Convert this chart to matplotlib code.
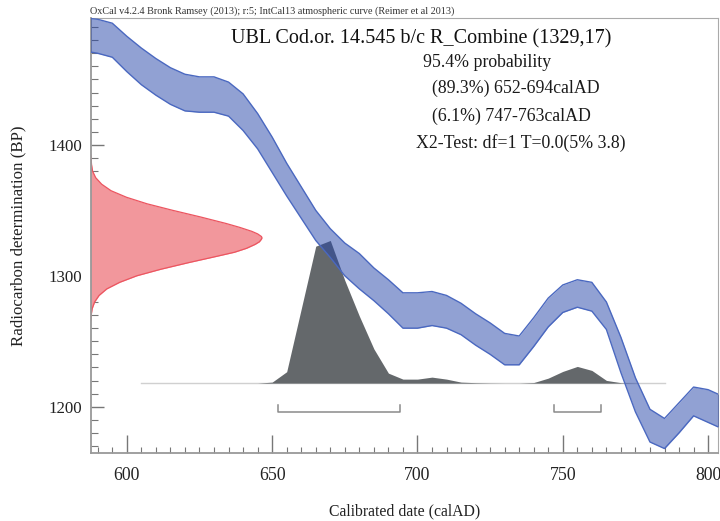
import numpy as np
import matplotlib
matplotlib.use("Agg")
import matplotlib.pyplot as plt
from matplotlib.ticker import MultipleLocator

plt.rcParams['font.family'] = ['Liberation Serif', 'DejaVu Serif']

# IntCal13 band (5 yr grid), upper / lower edge in BP
curve_years = [585, 590, 595, 600, 605, 610, 615, 620, 625, 630, 635, 640, 645,
               650, 655, 660, 665, 670, 675, 680, 685, 690, 695, 700, 705, 710,
               715, 720, 725, 730, 735, 740, 745, 750, 755, 760, 765, 770, 775,
               780, 785, 790, 795, 800, 805]
curve_upper = [1497, 1496, 1493, 1483, 1474, 1466, 1459, 1454, 1452, 1452, 1448,
               1439, 1424, 1406, 1386, 1368, 1350, 1336, 1325, 1317, 1306, 1297,
               1287, 1287, 1288, 1285, 1279, 1271, 1264, 1256, 1254, 1268, 1283,
               1293, 1297, 1295, 1280, 1253, 1222, 1198, 1191, 1203, 1215, 1213,
               1208]
curve_lower = [1472, 1470, 1467, 1456, 1446, 1438, 1431, 1426, 1425, 1425, 1422,
               1411, 1397, 1379, 1361, 1344, 1327, 1314, 1300, 1290, 1281, 1271,
               1260, 1260, 1262, 1260, 1255, 1247, 1240, 1232, 1232, 1246, 1261,
               1272, 1276, 1273, 1259, 1226, 1196, 1173, 1168, 1180, 1193, 1188,
               1183]

# measured date R_Combine (1329,17): relative probability by BP
meas_bp = [1393, 1390, 1385, 1380, 1375, 1370, 1365, 1360, 1355, 1350, 1345,
           1340, 1337, 1334, 1332, 1330, 1329, 1328, 1326, 1324, 1321, 1318,
           1315, 1310, 1305, 1300, 1295, 1290, 1285, 1280, 1275, 1270, 1265]
meas_prob = [0, 0.003, 0.006, 0.012, 0.03, 0.065, 0.12, 0.21, 0.33, 0.48, 0.64,
             0.79, 0.87, 0.94, 0.975, 0.997, 1.0, 0.997, 0.985, 0.96, 0.91,
             0.84, 0.74, 0.57, 0.41, 0.27, 0.17, 0.095, 0.05, 0.024, 0.01,
             0.004, 0]

# calibrated distribution: relative probability by year
cal_years = [645, 650, 655, 660, 665, 670, 675, 680, 685, 690, 695, 700, 705,
             710, 715, 720, 725, 730, 735, 740, 745, 750, 755, 760, 765, 770, 775]
cal_prob = [0.0, 0.007, 0.08, 0.52, 0.96, 1.0, 0.72, 0.47, 0.24, 0.07, 0.028,
            0.028, 0.042, 0.028, 0.007, 0.003, 0.001, 0.0, 0.0, 0.004, 0.035,
            0.082, 0.117, 0.089, 0.019, 0.003, 0.0]
cal_span = [605, 785]

# 95.4% ranges
ranges = [(652, 694), (747, 763)]
range_text = ["(89.3%) 652-694calAD", "(6.1%) 747-763calAD"]

xmin, xmax = 587.5, 803.4
ymin, ymax = 1164.6, 1497
base_bp = 1218
cal_height = 109    # BP for peak of calibrated dist
meas_width = 59     # years for peak of measured dist

fig = plt.figure(figsize=(7.2, 5.21), dpi=100)
ax = fig.add_axes([0.1257, 0.1305, 0.8715, 0.835])

# calibrated distribution (grey)
cal_top = [base_bp + p * cal_height for p in cal_prob]
ax.plot(cal_span, [base_bp, base_bp], color='#d0d0d0', lw=1.0, zorder=1)
ax.fill_between(cal_years, base_bp, cal_top, color='#64686b', lw=0, zorder=2)

# calibration curve (blue band)
ax.fill_between(curve_years, curve_lower, curve_upper, color='#2444a8',
                alpha=0.5, lw=0, zorder=3)
ax.plot(curve_years, curve_upper, color='#4a68c0', lw=1.0, zorder=4)
ax.plot(curve_years, curve_lower, color='#4a68c0', lw=1.0, zorder=4)

# measured distribution (red)
meas_x = [xmin + p * meas_width for p in meas_prob]
ax.fill_betweenx(meas_bp, xmin, meas_x, color='#f2979c', lw=0, zorder=2)
ax.plot(meas_x, meas_bp, color='#ec5560', lw=0.9, zorder=2)

# range brackets
for lo, hi in ranges:
    ax.plot([lo, lo, hi, hi], [1201, 1196.2, 1196.2, 1201], color='#8a8a8a',
            lw=1.1, zorder=2)

ax.set_xlim(xmin, xmax)
ax.set_ylim(ymin, ymax)
ax.xaxis.set_major_locator(MultipleLocator(50))
ax.xaxis.set_minor_locator(MultipleLocator(5))
ax.yaxis.set_major_locator(MultipleLocator(100))
ax.yaxis.set_minor_locator(MultipleLocator(10))
ax.tick_params(which='both', direction='in', color='#777777', top=False,
               right=False, labelcolor='#222222')
ax.tick_params(axis='x', which='major', length=13, width=1.0, pad=10, labelsize=12.8)
ax.tick_params(axis='x', which='minor', length=4, width=0.8)
ax.tick_params(axis='y', which='major', length=9, width=1.0, pad=6, labelsize=12.2)
ax.tick_params(axis='y', which='minor', length=5, width=0.8)

for side in ['left', 'bottom']:
    ax.spines[side].set_color('#999999')
    ax.spines[side].set_linewidth(1.3)
for side in ['top', 'right']:
    ax.spines[side].set_color('#aaaaaa')
    ax.spines[side].set_linewidth(0.8)

ax.set_xlabel('Calibrated date (calAD)', fontsize=11.3, labelpad=14, color='#222222')
ax.set_ylabel('Radiocarbon determination (BP)', fontsize=12.2, labelpad=16, color='#222222')

fig.text(90 / 720, 1 - 14 / 521,
         'OxCal v4.2.4 Bronk Ramsey (2013); r:5; IntCal13 atmospheric curve (Reimer et al 2013)',
         fontsize=7.25, color='#333333', va='baseline', ha='left')

ax.text(0.527, 0.952, 'UBL Cod.or. 14.545 b/c R_Combine (1329,17)',
        transform=ax.transAxes, ha='center', va='center', fontsize=14.5, color='#111111')
ax.text(0.530, 0.8966, '95.4% probability', transform=ax.transAxes,
        ha='left', va='center', fontsize=12.8, color='#1a1a1a')
ax.text(0.544, 0.839, range_text[0], transform=ax.transAxes,
        ha='left', va='center', fontsize=12.8, color='#1a1a1a')
ax.text(0.544, 0.7747, range_text[1], transform=ax.transAxes,
        ha='left', va='center', fontsize=12.8, color='#1a1a1a')
ax.text(0.5187, 0.7126, 'X2-Test: df=1 T=0.0(5% 3.8)', transform=ax.transAxes,
        ha='left', va='center', fontsize=12.8, color='#1a1a1a')

fig.savefig('out.png', dpi=100)
